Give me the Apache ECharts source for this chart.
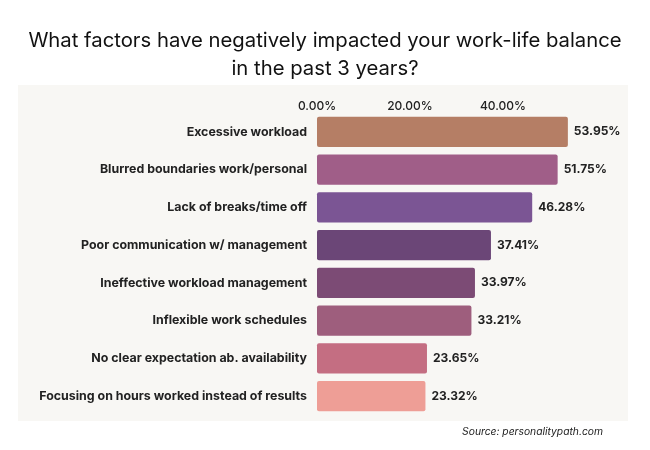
<!DOCTYPE html>
<html><head><meta charset="utf-8">
<script src="https://cdn.jsdelivr.net/npm/echarts@6/dist/echarts.min.js"></script>
<style>html,body{margin:0;padding:0;background:#fff}#c{width:650px;height:450px}</style>
</head><body><div id="c"></div>
<script>
const categories = [
  "Excessive workload",
  "Blurred boundaries work/personal",
  "Lack of breaks/time off",
  "Poor communication w/ management",
  "Ineffective workload management",
  "Inflexible work schedules",
  "No clear expectation ab. availability",
  "Focusing on hours worked instead of results"
];
const values = [53.95, 51.75, 46.28, 37.41, 33.97, 33.21, 23.65, 23.32];
const barColors = ["#b57e65", "#a05e88", "#7b5594", "#6b4677", "#7c4b75", "#9e5e7d", "#c46e82", "#ee9e96"];
const titleText = "What factors have negatively impacted your work-life balance\nin the past 3 years?";
const sourceText = "Source: personalitypath.com";

const chart = echarts.init(document.getElementById('c'));
chart.setOption({
  backgroundColor: '#ffffff',
  animation: false,
  title: {
    text: titleText,
    left: 'center',
    top: 22,
    textStyle: { fontFamily: 'Inter', fontSize: 20.3, fontWeight: 'normal', color: '#111', lineHeight: 28 }
  },
  graphic: [
    { type: 'rect', z: -10, shape: { x: 18, y: 85, width: 610, height: 336 }, style: { fill: '#f8f7f4' } },
    { type: 'text', right: 47, top: 427, style: { text: sourceText, font: 'italic 10.3px Inter', fill: '#222' } }
  ],
  grid: { left: 317, top: 113, width: 279, height: 302 },
  xAxis: {
    type: 'value', position: 'top', min: 0, max: 60, interval: 20,
    axisLine: { show: false }, axisTick: { show: false }, splitLine: { show: false },
    axisLabel: { showMaxLabel: false, margin: 1, fontFamily: 'Inter', fontSize: 12, fontWeight: 500, color: '#222',
      formatter: v => v.toFixed(2) + '%' }
  },
  yAxis: {
    type: 'category', data: categories, inverse: true,
    axisLine: { show: false }, axisTick: { show: false },
    axisLabel: { margin: 10, fontFamily: 'Inter', fontSize: 12.4, fontWeight: 'bold', color: '#222' }
  },
  series: [{
    type: 'bar',
    data: values.map((v, i) => ({ value: v, itemStyle: { color: barColors[i] } })),
    barCategoryGap: '20%',
    itemStyle: { borderRadius: 2 },
    label: { show: true, position: 'right', distance: 6, fontFamily: 'Inter', fontSize: 12, fontWeight: 'bold', color: '#222',
      formatter: p => p.value.toFixed(2) + '%' }
  }]
});
</script></body></html>
